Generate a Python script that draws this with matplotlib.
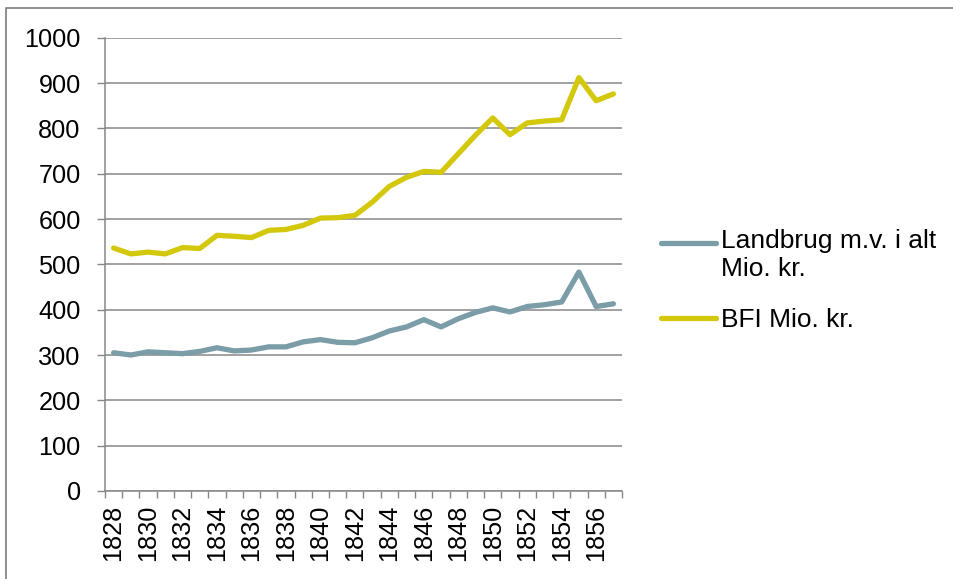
import numpy as np
import matplotlib.pyplot as plt
from matplotlib.lines import Line2D

plt.rcParams['font.family'] = ['Liberation Sans', 'DejaVu Sans']

# --- Data ---
years = list(range(1828, 1858))
landbrug = [305, 300, 307, 305, 303, 308, 316, 309, 311, 318,
            318, 329, 334, 328, 327, 338, 353, 362, 378, 362,
            380, 394, 404, 395, 407, 411, 417, 483, 407, 413]
bfi = [536, 523, 527, 523, 537, 535, 564, 562, 559, 575,
       577, 586, 602, 603, 608, 637, 672, 692, 705, 703,
       744, 785, 823, 786, 812, 816, 819, 912, 861, 876]
series_labels = ['Landbrug m.v. i alt\nMio. kr.', 'BFI Mio. kr.']
colors = ['#7A9DA7', '#D3C80C']
y_ticks = list(range(0, 1001, 100))

W, H = 954, 579
fig = plt.figure(figsize=(W / 100, H / 100), dpi=100)
ax = fig.add_axes([105 / W, 1 - 491 / H, (622 - 105) / W, (491 - 37.7) / H])

x = np.arange(len(years))
ax.plot(x, landbrug, color=colors[0], lw=3.8, solid_capstyle='round', zorder=3)
ax.plot(x, bfi, color=colors[1], lw=3.8, solid_capstyle='round', zorder=3)

ax.set_xlim(-0.5, len(years) - 0.5)
ax.set_ylim(0, 1000)
ax.set_yticks(y_ticks)
ax.yaxis.grid(True, color='#878787', lw=1.1)
ax.set_axisbelow(True)

# category boundary ticks (unlabelled), labels at every second year
ax.set_xticks(np.arange(-0.5, len(years), 1.0))
ax.set_xticklabels([])
ax.set_xticks(x[::2], minor=True)
ax.set_xticklabels([str(y) for y in years[::2]], minor=True, rotation=90,
                   fontsize=18.2, va='top')
ax.tick_params(axis='x', which='major', length=5, width=1, color='#878787',
               direction='out')
ax.tick_params(axis='x', which='minor', length=0, pad=10)
ax.tick_params(axis='y', length=6, width=1, color='#878787', pad=11.5,
               labelsize=18.2)

for s in ['top', 'right']:
    ax.spines[s].set_visible(False)
for s in ['left', 'bottom']:
    ax.spines[s].set_color('#878787')
    ax.spines[s].set_linewidth(1.1)

# legend, Excel style: handle aligned with first text line
leg_x0, leg_x1, txt_x = 661 / W, 716 / W, 721 / W
for lab, col, ypix, ytop in zip(series_labels, colors, [243, 318], [229, 308]):
    yf = 1 - ypix / H
    fig.add_artist(Line2D([leg_x0, leg_x1], [yf, yf], color=col, lw=3.8,
                          solid_capstyle='round', transform=fig.transFigure))
    fig.text(txt_x, 1 - ytop / H, lab, fontsize=19, va='top', ha='left',
             linespacing=1.2)

# outer chart frame (left and top edges visible)
fig.add_artist(Line2D([6 / W, 6 / W, 1.01], [-0.01, 1 - 8 / H, 1 - 8 / H],
                      color='#878787', lw=1.3, transform=fig.transFigure))

fig.savefig('out.png', dpi=100)
